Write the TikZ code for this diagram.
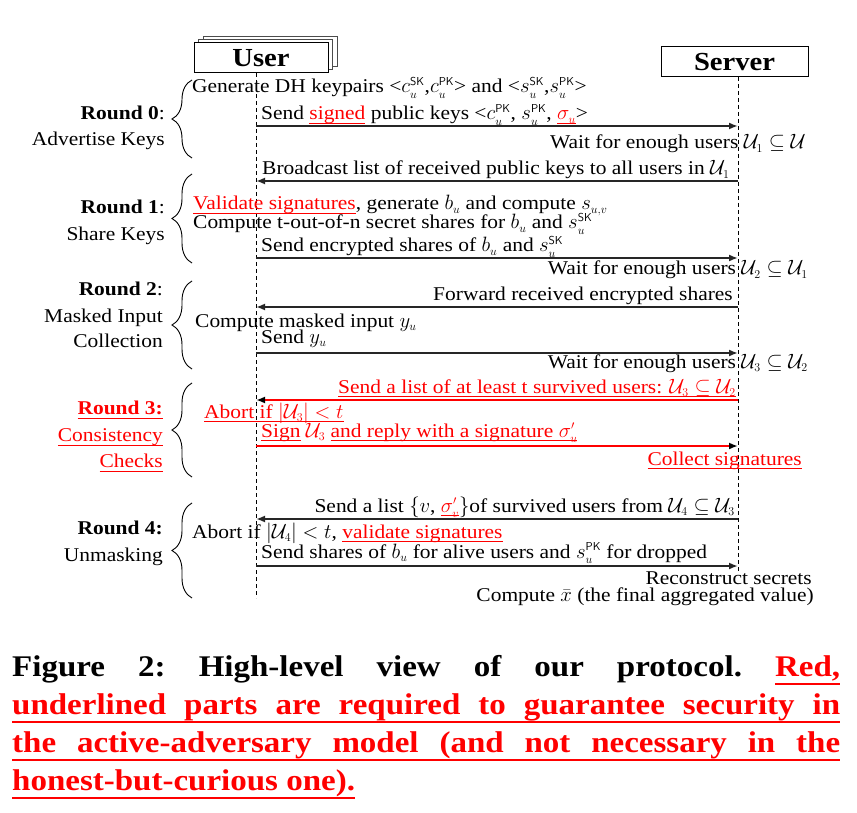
\documentclass[tikz,border=0pt]{standalone}
\usepackage{fontspec}
\setmainfont{Liberation Serif}[FakeStretch=1.1]
\usepackage{amsmath}
\usetikzlibrary{arrows.meta,decorations.pathreplacing}
\definecolor{rosso}{HTML}{FF0000}
\DeclareMathSizes{19.5}{19.5}{11.5}{8.5}
% sottolineatura rossa (rule esplicita, spessore e distanza in em)
\newcommand{\rul}[2][0.2em]{{\color{rosso}\setbox0=\hbox{#2}%
        \rlap{\rule[-#1]{\wd0}{0.07em}}\box0}}
\newcommand{\Uset}[1]{\mathcal{U}_{#1}}
\newcommand{\SK}{\mathsf{SK}}
\newcommand{\PK}{\mathsf{PK}}

\begin{document}
\begin{tikzpicture}[x=1pt, y=-1pt,
            every node/.style={inner sep=0pt, font=\fontsize{19.5}{23}\selectfont},
            txt/.style={anchor=base west},
            txtr/.style={anchor=base east},
            actor/.style={draw, line width=1pt, fill=white, minimum height=30pt,
                font=\fontsize{26}{30}\selectfont\bfseries},
            lifeline/.style={line width=0.8pt, dash pattern=on 4pt off 3pt},
            msg/.style={line width=1.8pt, draw=black!85, -{Latex[length=9pt, width=7pt]}},
            msgred/.style={line width=1.8pt, draw=rosso, -{Latex[length=9pt, width=7pt, color=black]}},
            graffa/.style={decorate, decoration={brace, amplitude=20pt}, line width=0.9pt},
            didascalia/.style={anchor=base west, font=\fontsize{30}{38}\selectfont\bfseries\frenchspacing}]
        \path[use as bounding box, fill=white] (0,0) rectangle (857,813);

        % Partecipanti
        \node[actor, minimum width=134pt, draw=black!70] (userc) at (270,52) {};
        \node[actor, minimum width=134pt, draw=black!70] (userb) at (265,55) {};
        \node[actor, minimum width=134pt] (user) at (261,58) {User};
        \node[actor, minimum width=147pt] (server) at (734.5,62) {Server};

        % Linee di vita
        \coordinate (uTop) at (256,73);
        \coordinate (uBot) at (256,598);
        \coordinate (sTop) at (738,77);
        \coordinate (sBot) at (738,572);
        \draw[lifeline] (uTop) -- (uBot);
        \draw[lifeline] (sTop) -- (sBot);

        % Messaggi
        \foreach \n/\y in {m0/126, m1/181, m2/258, m3/307, m4/353,
                m5/400, m6/446, m7/519, m8/566}{
                \coordinate (u\n) at (256,\y);
                \coordinate (s\n) at (738,\y);
            }
        \draw[msg] (um0) -- (sm0);
        \draw[msg] (sm1) -- (um1);
        \draw[msg] (um2) -- (sm2);
        \draw[msg] (sm3) -- (um3);
        \draw[msg] (um4) -- (sm4);
        \draw[msgred] (sm5) -- (um5);
        \draw[msgred] (um6) -- (sm6);
        \draw[msg] (sm7) -- (um7);
        \draw[msg] (um8) -- (sm8);

        % Round 0
        \node[txt] (t0) at (192,93) {Generate DH keypairs <$c_u^{\SK}$,$c_u^{\PK}$> and <$s_u^{\SK}$,$s_u^{\PK}$>};
        \node[txt] (t1) at (261,120) {Send \rul{signed} public keys <$c_u^{\PK}$, $s_u^{\PK}$, \rul{$\sigma_u$}>};
        \node[txtr] (t2) at (806,149) {Wait for enough users $\Uset{1}\subseteq \mathcal{U}$};
        \node[txt] (t3) at (262,175) {Broadcast list of received public keys to all users in $\Uset{1}$};
        % Round 1
        \node[txt] (t4) at (193,210) {\rul{Validate signatures}, generate $b_u$ and compute $s_{u,v}$};
        \node[txt] (t5) at (193,229) {Compute t-out-of-n secret shares for $b_u$ and $s_u^{\SK}$};
        \node[txt] (t6) at (261,252) {Send encrypted shares of $b_u$ and $s_u^{\SK}$};
        \node[txtr] (t7) at (808,275) {Wait for enough users $\Uset{2}\subseteq \Uset{1}$};
        % Round 2
        \node[txtr] (t8) at (733,300) {Forward received encrypted shares};
        \node[txt] (t9) at (195,327) {Compute masked input $y_u$};
        \node[txt] (t10) at (261,343) {Send $y_u$};
        \node[txtr] (t11) at (808,368) {Wait for enough users $\Uset{3}\subseteq \Uset{2}$};
        % Round 3
        \node[txtr] (t12) at (736,393) {\rul{Send a list of at least t survived users: $\Uset{3}\subseteq \Uset{2}$}};
        \node[txt] (t13) at (204,418) {\rul{Abort if $|\Uset{3}| < t$}};
        \node[txt, text=rosso] (t14) at (261,437) {\rul{Sign} $\Uset{3}$ \rul{and reply with a signature $\sigma'_u$}};
        \node[txtr] (t15) at (802,465) {\rul{Collect signatures}};
        % Round 4
        \node[txtr] (t16) at (735,512) {Send a list $\{v$, \rul{$\sigma'_v$}$\}$of survived users from $\Uset{4}\subseteq \Uset{3}$};
        \node[txt] (t17) at (192,538) {Abort if $|\Uset{4}| < t$, \rul{validate signatures}};
        \node[txt] (t18) at (261,558) {Send shares of $b_u$ for alive users and $s_u^{\PK}$ for dropped};
        \node[txtr] (t19) at (812,584) {Reconstruct secrets};
        \node[txtr] (t20) at (814,601) {Compute $\bar{x}$ (the final aggregated value)};

        % Etichette dei round
        \node[txtr] (r0a) at (165,120) {\textbf{Round 0}:};
        \node[txtr] (r0b) at (165,146) {Advertise Keys};
        \node[txtr] (r1a) at (165,214) {\textbf{Round 1}:};
        \node[txtr] (r1b) at (165,241) {Share Keys};
        \node[txtr] (r2a) at (163,295) {\textbf{Round 2}:};
        \node[txtr] (r2b) at (163,322) {Masked Input};
        \node[txtr] (r2c) at (163,347) {Collection};
        \node[txtr] (r3a) at (163,414) {\rul[0.25em]{\textbf{Round 3:}}};
        \node[txtr] (r3b) at (163,441) {\rul[0.25em]{Consistency}};
        \node[txtr] (r3c) at (163,467) {\rul[0.25em]{Checks}};
        \node[txtr] (r4a) at (163,534) {\textbf{Round 4:}};
        \node[txtr] (r4b) at (163,561) {Unmasking};

        % Graffe
        \foreach \a/\b in {158/80, 263/174, 369/281, 477/383, 598/503}
        \draw[graffa] (192,\a) -- (192,\b);

        % Didascalia
        \node[didascalia] (cap1) at (12,676) {\makebox[828pt][s]{Figure 2: High-level view of our protocol. \rul[0.3em]{Red,}}};
        \node[didascalia] (cap2) at (12,714) {\rul[0.3em]{\makebox[828pt][s]{underlined parts are required to guarantee security in}}};
        \node[didascalia] (cap3) at (12,752) {\rul[0.3em]{\makebox[828pt][s]{the active-adversary model (and not necessary in the}}};
        \node[didascalia] (cap4) at (12,790) {\rul[0.3em]{honest-but-curious one).}};
    \end{tikzpicture}
\end{document}
